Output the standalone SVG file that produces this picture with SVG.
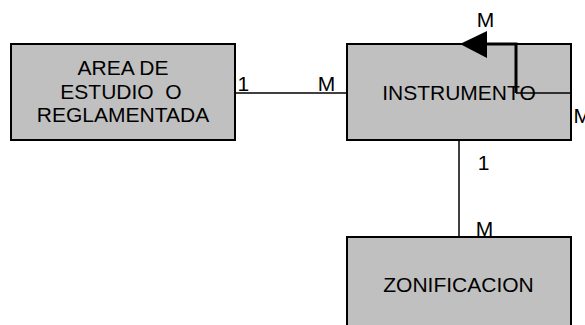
<svg xmlns="http://www.w3.org/2000/svg" width="585" height="325" viewBox="0 0 585 325">
<style>
.box{fill:#c0c0c0;stroke:#000;stroke-width:2}
.t{font-family:"Liberation Sans",Arial,sans-serif;font-size:21px;fill:#000}
.m{text-anchor:middle}
.ln{fill:none;stroke:#000;stroke-width:1.5}
.th{fill:none;stroke:#000;stroke-width:3}
</style>
<rect width="585" height="325" fill="#fff"/>
<g id="area">
<rect class="box" x="11" y="44" width="224" height="96"/>
<text class="t m" x="123" y="75">AREA DE</text>
<text class="t m" x="121" y="98.5" xml:space="preserve">ESTUDIO  O</text>
<text class="t m" x="123" y="122">REGLAMENTADA</text>
</g>
<g id="instrumento">
<rect class="box" x="347" y="44" width="224" height="96"/>
<text class="t m" x="459" y="100">INSTRUMENTO</text>
</g>
<g id="zonificacion">
<rect class="box" x="347" y="237" width="224" height="110"/>
<text class="t m" x="458.5" y="292">ZONIFICACION</text>
</g>
<g id="connectors">
<line class="ln" x1="235" y1="93" x2="347" y2="93"/>
<line class="ln" x1="459" y1="140" x2="459" y2="237"/>
<polyline class="ln" points="571,93 516,93"/>
<polyline class="th" points="516,93 516,44 486,44"/>
<polygon points="460,44 487,31 487,58" fill="#000"/>
<text class="t" x="237.5" y="91">1</text>
<text class="t" x="317.8" y="91">M</text>
<text class="t" x="476.8" y="27">M</text>
<text class="t" x="573.5" y="123">M</text>
<text class="t" x="477.7" y="170">1</text>
<text class="t" x="475.8" y="236">M</text>
</g>
</svg>
